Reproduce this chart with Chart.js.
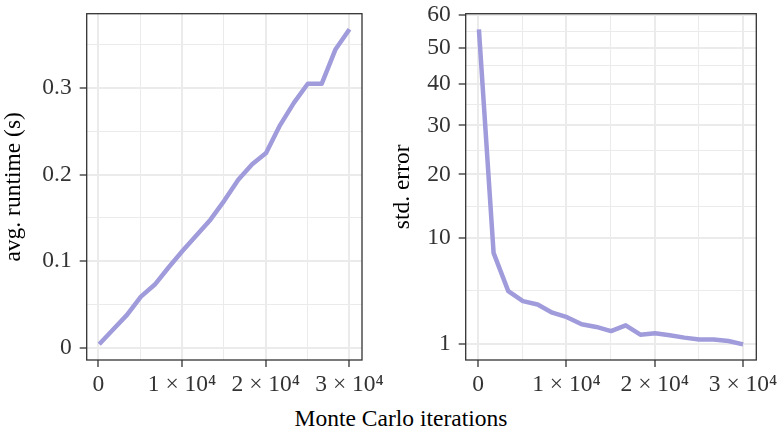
<!DOCTYPE html>
<html>
<head>
<meta charset="utf-8">
<script src="https://cdn.jsdelivr.net/npm/chart.js@4.4.1/dist/chart.umd.min.js"></script>
<style>
  body { margin: 0; background: #fff; }
  #wrap { position: relative; width: 778px; height: 430px; overflow: hidden; }
  canvas { position: absolute; top: 0; }
  #xtitle {
    position: absolute; left: 401px; top: 407px; transform: translateX(-50%);
    font: 23.5px 'Liberation Serif', 'DejaVu Serif', serif; line-height: 23.5px;
    color: #000; white-space: nowrap;
  }
</style>
</head>
<body>
<div id="wrap">
  <canvas id="left" width="389" height="400" style="left:0"></canvas>
  <canvas id="right" width="389" height="400" style="left:389px"></canvas>
  <div id="xtitle">Monte Carlo iterations</div>
</div>
<script>
// data
var iterations = [100, 1761, 3422, 5083, 6744, 8406, 10067, 11728, 13389, 15050,
                  16711, 18372, 20033, 21694, 23356, 25017, 26678, 28339, 30000];
var runtime = [0.004, 0.021, 0.038, 0.059, 0.073, 0.093, 0.112, 0.130, 0.148, 0.170,
               0.194, 0.212, 0.225, 0.257, 0.283, 0.305, 0.305, 0.345, 0.368];
var stdError = [55.5, 8.19, 4.31, 3.50, 3.25, 2.67, 2.38, 1.95, 1.80, 1.58,
                1.89, 1.40, 1.47, 1.37, 1.26, 1.18, 1.18, 1.11, 0.97];

var xTicks = [0, 10000, 20000, 30000];
var xTickLabels = ['0', '1 × 10⁴', '2 × 10⁴', '3 × 10⁴'];
var xMinor = [5000, 15000, 25000];

var yTicksL = [0, 0.1, 0.2, 0.3];
var yTickLabelsL = ['0', '0.1', '0.2', '0.3'];
var yMinorL = [0.05, 0.15, 0.25, 0.35];

var yTicksR = [1, 10, 20, 30, 40, 50, 60];
var yTickLabelsR = ['1', '10', '20', '30', '40', '50', '60'];
var yMinorR = [4.33, 14.57, 24.74, 34.82, 44.87, 54.89];

var lineColor = '#a09bdb';

// square-root axis (ggplot scale_y_sqrt look-alike)
class SqrtScale extends Chart.LinearScale {
  getPixelForValue(value) {
    var a = Math.sqrt(this.min), b = Math.sqrt(this.max);
    return this.getPixelForDecimal((Math.sqrt(value) - a) / (b - a));
  }
  getValueForPixel(pixel) {
    var a = Math.sqrt(this.min), b = Math.sqrt(this.max);
    var s = a + this.getDecimalForPixel(pixel) * (b - a);
    return s * s;
  }
}
SqrtScale.id = 'sqrt';
SqrtScale.defaults = Chart.LinearScale.defaults;
Chart.register(SqrtScale);

Chart.defaults.font.family = "'Liberation Serif', 'DejaVu Serif', serif";
Chart.defaults.font.size = 23.5;

var frame = {
  id: 'frame',
  afterDatasetsDraw(chart) {
    var a = chart.chartArea, ctx = chart.ctx;
    ctx.save();
    ctx.strokeStyle = '#333';
    ctx.lineWidth = 1.3;
    ctx.strokeRect(a.left, a.top, a.right - a.left, a.bottom - a.top);
    ctx.restore();
  }
};

function tickSet(major, minor) {
  return function(scale) {
    var t = major.map(v => ({value: v, minor: false}));
    minor.forEach(v => t.push({value: v, minor: true}));
    t.sort((p, q) => p.value - q.value);
    scale.ticks = t;
  };
}

function gridOpts() {
  return {
    color: '#ebebeb',
    lineWidth: ctx => ctx.tick && ctx.tick.minor ? 1 : 2,
    tickColor: ctx => ctx.tick && ctx.tick.minor ? 'rgba(0,0,0,0)' : '#333',
    tickWidth: 1.3,
    tickLength: 7
  };
}

function labelFrom(values, labels) {
  return function(v) {
    var i = values.indexOf(v);
    return i < 0 ? '' : labels[i];
  };
}

function noPad(s) {
  s.paddingTop = 0; s.paddingBottom = 0; s.paddingLeft = 0; s.paddingRight = 0;
}

function makeChart(id, yVals, yScale, yTitle, padRight, yWidth) {
  var pts = iterations.map((x, i) => ({x: x, y: yVals[i]}));
  return new Chart(document.getElementById(id), {
    type: 'line',
    data: {
      datasets: [{
        data: pts,
        borderColor: lineColor,
        borderWidth: 4.5,
        pointRadius: 0,
        borderJoinStyle: 'round',
        tension: 0
      }]
    },
    options: {
      responsive: false,
      animation: false,
      layout: { padding: { left: 0, top: 13.7, right: padRight, bottom: 0 } },
      plugins: { legend: { display: false }, tooltip: { enabled: false } },
      scales: {
        x: {
          type: 'linear',
          min: -1395, max: 31495,
          afterBuildTicks: tickSet(xTicks, xMinor),
          afterFit: s => { s.height = 40; noPad(s); },
          border: { display: false },
          grid: gridOpts(),
          ticks: {
            autoSkip: false, maxRotation: 0, padding: 4, color: '#333',
            callback: labelFrom(xTicks, xTickLabels)
          }
        },
        y: Object.assign({
          afterFit: s => { s.width = yWidth; noPad(s); },
          border: { display: false },
          grid: gridOpts(),
          title: { display: true, text: yTitle, color: '#000', padding: 0 }
        }, yScale)
      }
    },
    plugins: [frame]
  });
}

makeChart('left', runtime, {
  type: 'linear', min: -0.0142, max: 0.386,
  afterBuildTicks: tickSet(yTicksL, yMinorL),
  ticks: { autoSkip: false, padding: 8, color: '#333', callback: labelFrom(yTicksL, yTickLabelsL) }
}, 'avg. runtime (s)', 27, 86.7);

makeChart('right', stdError, {
  type: 'sqrt', min: 0.44, max: 60.4,
  afterBuildTicks: tickSet(yTicksR, yMinorR),
  ticks: { autoSkip: false, padding: 8, color: '#333', callback: labelFrom(yTicksR, yTickLabelsR) }
}, 'std. error', 21.7, 76.7);
</script>
</body>
</html>
